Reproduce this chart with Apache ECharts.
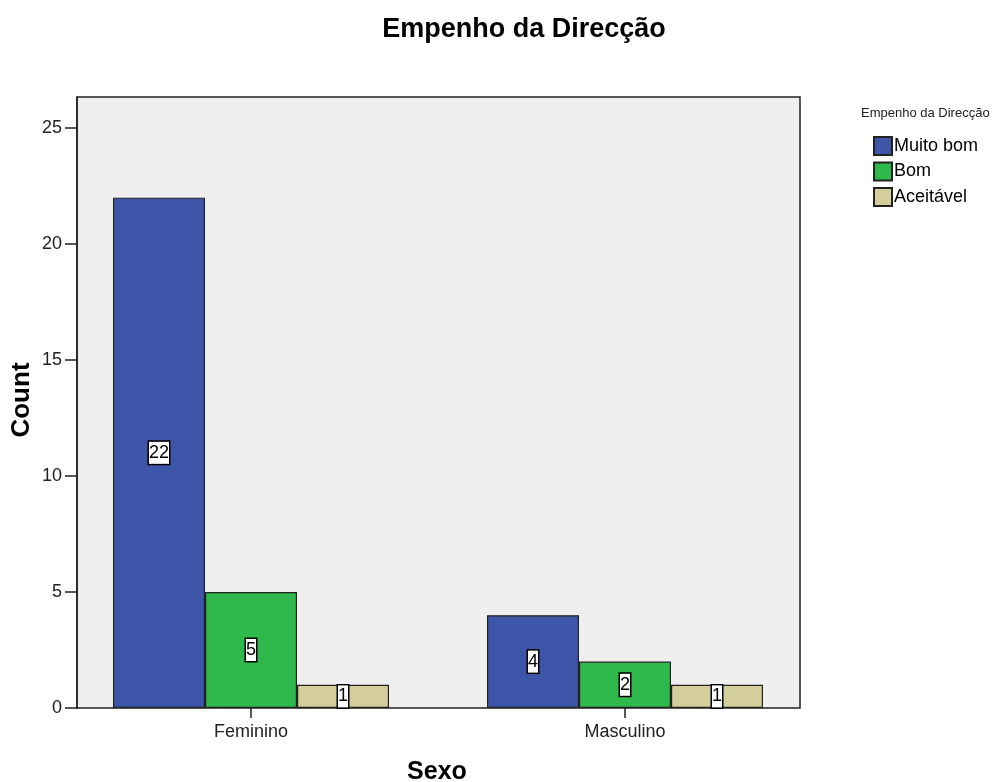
<!DOCTYPE html>
<html>
<head>
<meta charset="utf-8">
<script src="https://cdn.jsdelivr.net/npm/echarts@6/dist/echarts.min.js"></script>
<style>html,body{margin:0;padding:0;background:#fff}#c{width:995px;height:782px}</style>
</head>
<body>
<div id="c"></div>
<script>
const categories = ['Feminino', 'Masculino'];
const seriesNames = ['Muito bom', 'Bom', 'Aceitável'];
const muitoBom = [22, 4];
const bom = [5, 2];
const aceitavel = [1, 1];
const yTicks = [0, 5, 10, 15, 20, 25];
const yMax = 26.34;

const colors = ['#3d56a9', '#2fb84b', '#d4cf9a'];
const FONT = 'Liberation Sans, Arial, sans-serif';

const chart = echarts.init(document.getElementById('c'));
const values = [muitoBom, bom, aceitavel];

const labelStyle = {
  show: true,
  position: 'inside',
  color: '#000',
  fontFamily: FONT,
  fontSize: 18,
  backgroundColor: '#fff',
  borderColor: '#000',
  borderWidth: 1.5,
  padding: [2, 0, 1, 0],
  lineHeight: 19
};

chart.setOption({
  animation: false,
  backgroundColor: '#fff',
  title: [
    { text: 'Empenho da Direcção', left: 519, top: 11, textAlign: 'center',
      textStyle: { fontFamily: FONT, fontSize: 27, fontWeight: 'bold', color: '#000' } },
    { text: 'Empenho da Direcção', left: 861, top: 107, padding: 0,
      textStyle: { fontFamily: FONT, fontSize: 13, fontWeight: 'normal', color: '#222' } }
  ],
  legend: {
    orient: 'vertical', left: 873, top: 136, padding: 0,
    itemWidth: 18, itemHeight: 18, itemGap: 5.5,
    icon: 'rect',
    data: seriesNames,
    textStyle: { fontFamily: FONT, fontSize: 18, color: '#000', padding: [0, 0, 0, -3] }
  },
  grid: [
    { left: 64, width: 748, top: 97, height: 611, show: false },
    { left: 77, width: 723, top: 97, height: 611, show: true, backgroundColor: '#efefef', borderColor: '#222', borderWidth: 1.5, z: 0 }
  ],
  xAxis: [
    { type: 'category', gridIndex: 0, data: categories,
      axisLine: { show: false },
      axisTick: { show: true, alignWithLabel: true, length: 10, lineStyle: { color: '#222', width: 1.5 } },
      axisLabel: { fontFamily: FONT, fontSize: 18, color: '#222', margin: 15 } },
    { type: 'value', gridIndex: 1, min: 0, max: 1, show: false }
  ],
  yAxis: [
    { type: 'value', gridIndex: 0, min: 0, max: yMax, show: false },
    { type: 'value', gridIndex: 1, min: 0, max: yMax, interval: 5,
      axisLine: { show: true, lineStyle: { color: '#222', width: 1.5 } },
      axisTick: { show: true, length: 12, customValues: yTicks, lineStyle: { color: '#222', width: 1.5 } },
      axisLabel: { fontFamily: FONT, fontSize: 18, color: '#222', margin: 15, customValues: yTicks },
      splitLine: { show: false } }
  ],
  series: seriesNames.map((name, i) => ({
    type: 'bar', name: name, xAxisIndex: 0, yAxisIndex: 0,
    data: values[i],
    barGap: '0%', barCategoryGap: '26.2%',
    itemStyle: { color: colors[i], borderColor: '#222', borderWidth: 1.2 },
    label: labelStyle
  })),
  graphic: [
    { type: 'text', x: 437, y: 772, style: { text: 'Sexo', fontFamily: FONT, fontSize: 25, fontWeight: 'bold', fill: '#000', textAlign: 'center', textVerticalAlign: 'middle' } },
    { type: 'text', x: 22, y: 400, rotation: Math.PI / 2, style: { text: 'Count', fontFamily: FONT, fontSize: 26, fontWeight: 'bold', fill: '#000', textAlign: 'center', textVerticalAlign: 'middle' } }
  ]
});
</script>
</body>
</html>
